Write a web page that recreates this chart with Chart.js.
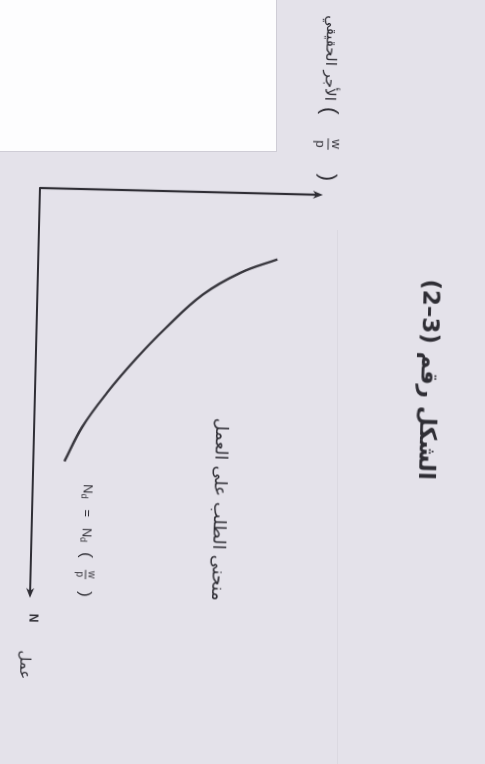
<!DOCTYPE html>
<html>
<head>
<meta charset="utf-8">
<script src="https://cdn.jsdelivr.net/npm/chart.js@4.4.1/dist/chart.umd.min.js"></script>
<style>
  html, body { margin: 0; padding: 0; width: 485px; height: 764px; overflow: hidden; background: #e4e2ea; }
  /* the figure is printed sideways on the page, slightly skewed */
  #sheet { position: absolute; left: 0; top: 0; width: 764px; height: 485px;
           transform-origin: 0 0; transform: translate(492.6px, 4px) rotate(91.4deg); }
  #blank { position: absolute; left: 0; top: 0; width: 276px; height: 151px; background: #fdfdfe;
           border-right: 1px solid #cfcdd6; border-bottom: 1px solid #cfcdd6; }
  #fold { position: absolute; left: 337px; top: 230px; width: 1px; height: 534px; background: #dbd9e1; }
</style>
</head>
<body>
<div id="fold"></div>
<div id="sheet"><canvas id="fig" width="764" height="485"></canvas></div>
<div id="blank"></div>
<script>
// Labour demand: employment N against the real wage w/p
const employment = [16, 19.5, 25, 33.5, 41, 49.5, 58, 66.5];
const realWage   = [84.5, 71.5, 58.5, 45.5, 35.5, 25.5, 17, 11];
const axisMaxN = 100;
const axisMaxW = 100;

const titleText   = 'الشكل رقم (3–2)';
const curveLabel  = 'منحنى الطلب على العمل';
const wageLabel   = 'الأجر الحقيقي';
const labourSym   = 'N';
const labourWord  = 'عمل';

const ink = '#2f2e35';
const arabicFont = '"DejaVu Sans", sans-serif';
const latinFont  = '"Liberation Sans", Arial, sans-serif';

// "( w/p )" as a stacked fraction inside parentheses; returns the end x
function parenFraction(ctx, x, cy, fs, gap) {
  ctx.textBaseline = 'middle';
  ctx.textAlign = 'left';
  ctx.direction = 'ltr';
  ctx.font = `${Math.round(fs * 1.7)}px ${latinFont}`;
  ctx.fillText('(', x, cy);
  x += ctx.measureText('(').width + gap;
  ctx.font = `${fs}px ${latinFont}`;
  const w = Math.max(ctx.measureText('w').width, ctx.measureText('p').width) + 2;
  ctx.textAlign = 'center';
  ctx.fillText('w', x + w / 2, cy - fs * 0.62);
  ctx.fillText('p', x + w / 2, cy + fs * 0.62);
  ctx.lineWidth = 1;
  ctx.beginPath(); ctx.moveTo(x, cy); ctx.lineTo(x + w, cy); ctx.stroke();
  x += w + gap;
  ctx.textAlign = 'left';
  ctx.font = `${Math.round(fs * 1.7)}px ${latinFont}`;
  ctx.fillText(')', x, cy);
  return x + ctx.measureText(')').width;
}

function arrowHead(ctx, tx, ty, dx, dy, len, half) {
  const px = -dy, py = dx;
  ctx.beginPath();
  ctx.moveTo(tx, ty);
  ctx.lineTo(tx - dx * len + px * half, ty - dy * len + py * half);
  ctx.lineTo(tx - dx * len * 0.7, ty - dy * len * 0.7);
  ctx.lineTo(tx - dx * len - px * half, ty - dy * len - py * half);
  ctx.closePath();
  ctx.fill();
}

const figureDecor = {
  id: 'figureDecor',
  beforeDatasetsDraw(chart) {
    const { ctx, scales: { x, y } } = chart;
    const x0 = x.getPixelForValue(0), y0 = y.getPixelForValue(0);
    const xEnd = x.getPixelForValue(axisMaxN), yEnd = y.getPixelForValue(axisMaxW);
    ctx.save();
    ctx.strokeStyle = ink; ctx.fillStyle = ink;
    ctx.lineWidth = 2.2; ctx.lineJoin = 'round';
    ctx.beginPath();
    ctx.moveTo(x0, yEnd + 6);
    ctx.lineTo(x0, y0);
    ctx.lineTo(xEnd - 6, y0);
    ctx.stroke();
    arrowHead(ctx, xEnd, y0, 1, 0, 10, 4);
    arrowHead(ctx, x0, yEnd, 0, -1, 10, 4);
    ctx.restore();
  },
  afterDatasetsDraw(chart) {
    const { ctx, scales: { x, y } } = chart;
    const x0 = x.getPixelForValue(0), y0 = y.getPixelForValue(0);
    ctx.save();
    ctx.fillStyle = ink; ctx.strokeStyle = ink;

    // figure caption
    ctx.direction = 'rtl';
    ctx.textAlign = 'center'; ctx.textBaseline = 'middle';
    ctx.font = `bold 23px ${arabicFont}`;
    ctx.fillText(titleText, x0 + 182, y0 - 392);

    // curve name
    ctx.font = `17.5px ${arabicFont}`;
    ctx.fillText(curveLabel, x0 + 317, y0 - 187);

    // axis words
    ctx.font = `15px ${arabicFont}`;
    ctx.fillText(labourWord, x0 + 477, y0 + 4);
    ctx.font = `15px ${arabicFont}`;
    ctx.fillText(wageLabel, x0 - 137, y0 - 287);
    ctx.fillStyle = ink;
    parenFraction(ctx, x0 - 88, y0 - 287, 13, 24);

    // N at the end of the employment axis
    ctx.direction = 'ltr';
    ctx.textAlign = 'center';
    ctx.font = `bold 12px ${latinFont}`;
    ctx.fillText(labourSym, x0 + 430, y0 - 3);

    // demand function Nd = Nd(w/p)
    let ex = x0 + 295;
    const ey = y0 - 55;
    ctx.textAlign = 'left';
    const part = (txt, size, dy) => {
      ctx.font = `${size}px ${latinFont}`;
      ctx.fillText(txt, ex, ey + dy);
      ex += ctx.measureText(txt).width;
    };
    part('N', 13, 0); part('d', 9, 4); part('   =   ', 13, 0);
    part('N', 13, 0); part('d', 9, 4); ex += 10;
    parenFraction(ctx, ex, ey, 10, 12);
    ctx.restore();
  }
};

new Chart(document.getElementById('fig'), {
  type: 'line',
  data: {
    datasets: [{
      data: employment.map((n, i) => ({ x: n, y: realWage[i] })),
      borderColor: '#38373e',
      borderWidth: 2.4,
      pointRadius: 0,
      fill: false,
      tension: 0.4
    }]
  },
  options: {
    responsive: false,
    animation: false,
    devicePixelRatio: 1,
    layout: { padding: { left: 195, right: 159, top: 165, bottom: 37 } },
    scales: {
      x: { type: 'linear', min: 0, max: axisMaxN, display: false },
      y: { type: 'linear', min: 0, max: axisMaxW, display: false }
    },
    plugins: { legend: { display: false }, tooltip: { enabled: false }, title: { display: false } }
  },
  plugins: [figureDecor]
});
</script>
</body>
</html>
